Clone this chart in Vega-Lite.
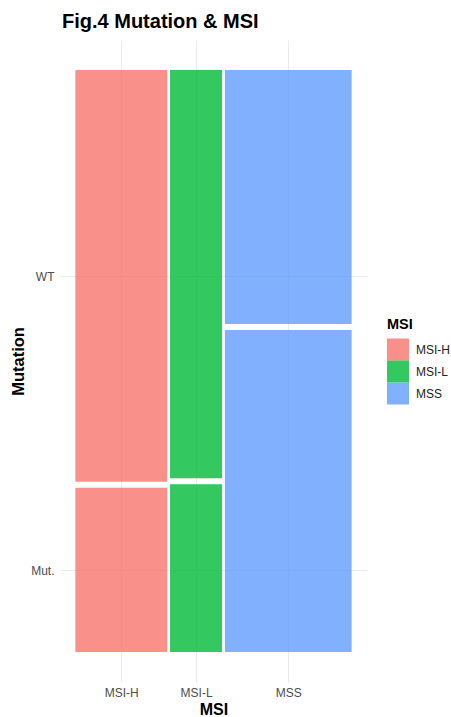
{
  "$schema": "https://vega.github.io/schema/vega-lite/v6.json",
  "autosize": {"type": "none"},
  "padding": {"left": 60, "top": 40, "right": 84, "bottom": 35},
  "width": 307,
  "height": 642,
  "title": {
    "text": "Fig.4 Mutation & MSI",
    "anchor": "start",
    "frame": "group",
    "font": "Liberation Sans",
    "fontSize": 20,
    "fontWeight": "bold",
    "color": "#000000",
    "baseline": "alphabetic",
    "offset": 10,
    "dx": 2,
    "dy": 18
  },
  "data": {
    "values": [
      {"msi": "MSI-H", "mutation": "Mut.", "count": 22},
      {"msi": "MSI-H", "mutation": "WT", "count": 54},
      {"msi": "MSI-L", "mutation": "Mut.", "count": 13},
      {"msi": "MSI-L", "mutation": "WT", "count": 31},
      {"msi": "MSS", "mutation": "Mut.", "count": 58},
      {"msi": "MSS", "mutation": "WT", "count": 46}
    ]
  },
  "transform": [
    {"stack": "count", "groupby": [], "sort": [{"field": "msi", "order": "ascending"}, {"field": "mutation", "order": "ascending"}], "as": ["xs0", "xe0"], "offset": "normalize"},
    {"joinaggregate": [{"op": "min", "field": "xs0", "as": "xs"}, {"op": "max", "field": "xe0", "as": "xe"}], "groupby": ["msi"]},
    {"stack": "count", "groupby": ["msi"], "sort": [{"field": "mutation", "order": "ascending"}], "as": ["ys", "ye"], "offset": "normalize"}
  ],
  "mark": {"type": "rect", "xOffset": 1.4, "x2Offset": -1.4, "yOffset": 3, "y2Offset": -3, "opacity": 0.8, "strokeWidth": 0},
  "encoding": {
    "x": {
      "field": "xs", "type": "quantitative",
      "scale": {"domain": [-0.05, 1.05], "nice": false, "zero": false},
      "axis": {
        "title": "MSI",
        "values": [0.1696, 0.4375, 0.768],
        "labelExpr": "datum.value < 0.3 ? 'MSI-H' : (datum.value < 0.6 ? 'MSI-L' : 'MSS')",
        "grid": true, "gridColor": "#EBEBEB", "gridWidth": 1,
        "domain": false, "ticks": false, "tickSize": 0,
        "labelFont": "Liberation Sans", "labelFontSize": 12, "labelColor": "#4D4D4D", "labelPadding": 5,
        "titleFont": "Liberation Sans", "titleFontSize": 16, "titleFontWeight": "bold", "titleColor": "#000000", "titlePadding": 3
      }
    },
    "x2": {"field": "xe"},
    "y": {
      "field": "ye", "type": "quantitative",
      "scale": {"domain": [-0.046, 1.046], "nice": false, "zero": false},
      "axis": {
        "title": "Mutation",
        "values": [0.1445, 0.6445],
        "labelExpr": "datum.value < 0.4 ? 'Mut.' : 'WT'",
        "grid": true, "gridColor": "#EBEBEB", "gridWidth": 1,
        "domain": false, "ticks": false, "tickSize": 0,
        "labelFont": "Liberation Sans", "labelFontSize": 12, "labelColor": "#4D4D4D", "labelPadding": 6,
        "titleFont": "Liberation Sans", "titleFontSize": 16.5, "titleFontWeight": "bold", "titleColor": "#000000", "titlePadding": 4
      }
    },
    "y2": {"field": "ys"},
    "color": {
      "field": "msi", "type": "nominal",
      "scale": {"domain": ["MSI-H", "MSI-L", "MSS"], "range": ["#F8766D", "#00BA38", "#619CFF"]},
      "legend": {
        "title": "MSI",
        "orient": "none",
        "legendX": 327,
        "legendY": 278,
        "symbolType": "square",
        "symbolSize": 484,
        "symbolOpacity": 0.8,
        "symbolStrokeWidth": 0,
        "rowPadding": 0,
        "labelOffset": 7,
        "labelFont": "Liberation Sans", "labelFontSize": 12, "labelColor": "#222222",
        "titleFont": "Liberation Sans", "titleFontSize": 14.5, "titleFontWeight": "bold", "titleColor": "#000000", "titlePadding": 6
      }
    }
  },
  "config": {"view": {"stroke": null}}
}
